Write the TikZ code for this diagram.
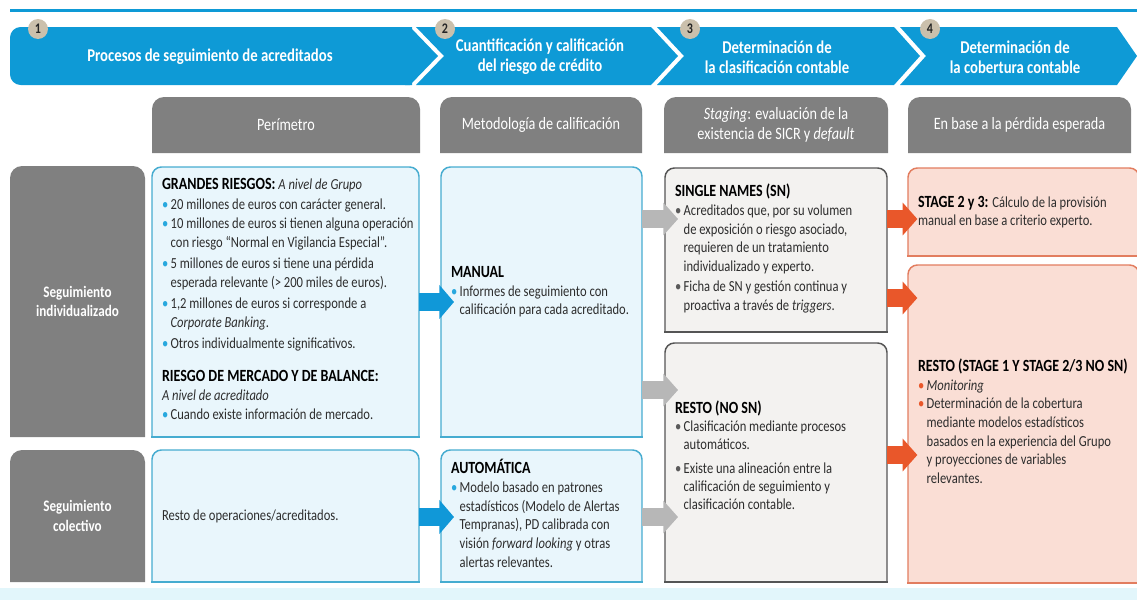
\documentclass[tikz,border=0pt]{standalone}
\usepackage{fontspec}
\setmainfont{Carlito}[FakeStretch=0.82]
\usetikzlibrary{arrows.meta}

\pgfdeclarelayer{bg}
\pgfsetlayers{bg,main}

\definecolor{bannerblue}{RGB}{14,154,214}
\definecolor{numbeige}{RGB}{203,192,172}
\definecolor{headgray}{RGB}{128,128,128}
\definecolor{boxblue}{RGB}{233,246,252}
\definecolor{boxblueline}{RGB}{70,172,208}
\definecolor{boxgrey}{RGB}{243,242,240}
\definecolor{boxgreyline}{RGB}{85,85,85}
\definecolor{boxpink}{RGB}{250,222,213}
\definecolor{boxpinkline}{RGB}{226,125,95}
\definecolor{arrblue}{RGB}{16,152,216}
\definecolor{arrgrey}{RGB}{183,183,183}
\definecolor{arrorange}{RGB}{233,87,42}
\definecolor{bulblue}{RGB}{40,168,222}
\definecolor{bulgrey}{RGB}{90,90,90}
\definecolor{txtgrey}{RGB}{45,45,45}
\definecolor{stripcyan}{RGB}{226,246,251}

\newcommand{\bitem}[2][bulblue]{\par\noindent\makebox[6.5pt][l]{\textcolor{#1}{\textbullet}}\begin{tabular}[t]{@{}l@{}}#2\end{tabular}}
\newcommand{\hd}[1]{{\fontsize{12.8}{15}\selectfont\bfseries\color{black}#1}}

\tikzset{every picture/.style={line width=0.75pt}}
\tikzset{
  boxtxt/.style={anchor=north west,inner xsep=7.5pt,inner ysep=0pt,outer sep=0pt,align=left,text=txtgrey,font=\fontsize{11.5}{14}\selectfont,
    execute at begin node={\leftskip=0pt\rightskip=0pt plus 1fil\parfillskip=0pt plus 1fil\spaceskip=0pt\xspaceskip=0pt\relax}},
  headtxt/.style={anchor=north west,inner sep=0pt,outer sep=0pt,minimum height=42pt,align=center,text=white,font=\fontsize{13}{15}\selectfont},
  rowtxt/.style={anchor=north west,inner sep=0pt,outer sep=0pt,minimum width=101.25pt,align=center,text=white,font=\fontsize{12}{14.5}\selectfont\bfseries},
  bantxt/.style={inner sep=0pt,align=center,text=white,font=\fontsize{13.5}{15}\selectfont\bfseries},
  numdot/.style={circle,fill=numbeige,inner sep=0pt,minimum size=15pt,text=black!85,font=\fontsize{11}{12}\selectfont\bfseries},
  grayshape/.style={fill=headgray,rounded corners=9pt},
  blueshape/.style={fill=boxblue,draw=boxblueline,line width=1.1pt,line cap=rect,rounded corners=7pt},
  greyshape/.style={fill=boxgrey,draw=boxgreyline,line width=1.1pt,line cap=rect,rounded corners=7pt},
  pinkshape/.style={fill=boxpink,draw=boxpinkline,line width=1.1pt,line cap=rect,rounded corners=7pt},
  bluearr/.style={draw=arrblue,line width=14pt,-{Triangle[width=25pt,length=11pt]},shorten >=-9.75pt},
  greyarr/.style={draw=arrgrey,line width=13pt,-{Triangle[width=24pt,length=11pt]},shorten >=-9.75pt},
  orangearr/.style={draw=arrorange,line width=13pt,-{Triangle[width=24pt,length=11pt]},shorten >=-7pt}
}

\begin{document}
\begin{tikzpicture}[x=0.75pt,y=0.75pt,yscale=-1,xscale=1]
\useasboundingbox (0,0) rectangle (1137,603);

%Top line
\draw [color=bannerblue, line width=2.25pt] (10,10) -- (1137,10) ;
%Bottom strip
\fill [stripcyan] (0,588) rectangle (1137,600) ;

%Banner segments
\fill [bannerblue, rounded corners=8pt] (412,27) -- (10,27) -- (10,85) -- (412,85) ;
\fill [bannerblue] (405,27) -- (410,27) -- (438,56) -- (410,85) -- (405,85) -- cycle ;
\fill [bannerblue] (416,27) -- (651,27) -- (678,56) -- (651,85) -- (416,85) -- (444,56) -- cycle ;
\fill [bannerblue] (657,27) -- (894,27) -- (920,56) -- (894,85) -- (657,85) -- (684,56) -- cycle ;
\fill [bannerblue] (900,27) -- (1117,27) -- (1137,56) -- (1117,85) -- (900,85) -- (926,56) -- cycle ;

% Banner texts
\node [bantxt] (b1) at (210,57) {Procesos de seguimiento de acreditados};
\node [bantxt] (b2) at (540,57) {Cuantificación y calificación\\del riesgo de crédito};
\node [bantxt] (b3) at (777,57) {Determinación de\\la clasificación contable};
\node [bantxt] (b4) at (1015,57) {Determinación de\\la cobertura contable};
% Step numbers
\node [numdot] (n1) at (38,29) {1};
\node [numdot] (n2) at (445,29) {2};
\node [numdot] (n3) at (690,29) {3};
\node [numdot] (n4) at (930,29) {4};

% Column headers
\node [headtxt, minimum width=201pt] (h1) at (152,97) {Perímetro};
\node [headtxt, minimum width=151.5pt] (h2) at (440,97) {Metodología de calificación};
\node [headtxt, minimum width=168pt] (h3) at (664,97) {\textit{Staging}: evaluación de la\\existencia de SICR y \textit{default}};
\node [headtxt, minimum width=167.25pt] (h4) at (908,97) {En base a la pérdida esperada};

% Row labels
\node [rowtxt, minimum height=203.25pt] (r1) at (10,166) {Seguimiento\\individualizado};
\node [rowtxt, minimum height=99pt] (r2) at (10,450) {Seguimiento\\colectivo};

% Perimetro
\node [boxtxt, minimum width=200.25pt, minimum height=202.5pt, text width=185.25pt, font=\fontsize{11.5}{14.5}\selectfont] (peri) at (152,167) {\noindent\hd{GRANDES RIESGOS:} \textit{A nivel de Grupo}
\bitem{20 millones de euros con carácter general.}
\bitem{10 millones de euros si tienen alguna operación\\con riesgo “Normal en Vigilancia Especial”.}
\bitem{5 millones de euros si tiene una pérdida\\esperada relevante (> 200 miles de euros).}
\bitem{1,2 millones de euros si corresponde a\\\textit{Corporate Banking}.}
\bitem{Otros individualmente significativos.}
\par\vspace{10pt}
\noindent\hd{RIESGO DE MERCADO Y DE BALANCE:}\par
\noindent\textit{A nivel de acreditado}
\bitem{Cuando existe información de mercado.}};
\node [boxtxt, minimum width=200.25pt, minimum height=99pt, text width=185.25pt] (resto) at (152,450) {Resto de operaciones/acreditados.};

% Metodologia
\node [boxtxt, minimum width=150.75pt, minimum height=202.5pt, text width=135.75pt] (manual) at (441,167) {\noindent\hd{MANUAL}
\bitem{Informes de seguimiento con\\calificación para cada acreditado.}\par\rule{0pt}{12pt}};
\node [boxtxt, minimum width=150.75pt, minimum height=99pt, text width=135.75pt] (auto) at (441,450) {\noindent\hd{AUTOMÁTICA}
\bitem{Modelo basado en patrones\\estadísticos (Modelo de Alertas\\Tempranas), PD calibrada con\\visión \textit{forward looking} y otras\\alertas relevantes.}};

% Staging
\node [boxtxt, minimum width=166.5pt, minimum height=123pt, text width=151.5pt] (sn) at (665,168) {\noindent\hd{SINGLE NAMES (SN)}
\bitem[bulgrey]{Acreditados que, por su volumen\\de exposición o riesgo asociado,\\requieren de un tratamiento\\individualizado y experto.}
\bitem[bulgrey]{Ficha de SN y gestión continua y\\proactiva a través de \textit{triggers}.}};
\node [boxtxt, minimum width=166.5pt, minimum height=179.25pt, text width=151.5pt, font=\fontsize{11.5}{13.5}\selectfont] (nosn) at (665,343) {\noindent\hd{RESTO (NO SN)}
\bitem[bulgrey]{Clasificación mediante procesos\\automáticos.}
\par\vspace{3pt}
\bitem[bulgrey]{Existe una alineación entre la\\calificación de seguimiento y\\clasificación contable.}\par\rule{0pt}{6pt}};

% Cobertura
\node [boxtxt, minimum width=173.25pt, minimum height=66pt, text width=158.25pt] (st23) at (908,168) {\noindent\hd{STAGE 2 y 3:} Cálculo de la provisión\newline manual en base a criterio experto.};
\node [boxtxt, minimum width=173.25pt, minimum height=238.5pt, text width=158.25pt] (restost) at (908,265) {\noindent\hd{RESTO (STAGE 1 Y STAGE 2/3 NO SN)}
\bitem[arrorange]{\textit{Monitoring}}
\bitem[arrorange]{Determinación de la cobertura\\mediante modelos estadísticos\\basados en la experiencia del Grupo\\y proyecciones de variables\\relevantes.}};

% Box shapes behind the texts
\begin{pgfonlayer}{bg}
\fill [grayshape] (h1.south west) -- (h1.north west) -- (h1.north east) -- (h1.south east) ;
\fill [grayshape] (h2.south west) -- (h2.north west) -- (h2.north east) -- (h2.south east) ;
\fill [grayshape] (h3.south west) -- (h3.north west) -- (h3.north east) -- (h3.south east) ;
\fill [grayshape] (h4.south west) -- (h4.north west) -- (h4.north east) -- (h4.south east) ;
\fill [grayshape] (r1.south west) -- (r1.north west) -- (r1.north east) -- (r1.south east) ;
\fill [grayshape] (r2.south west) -- (r2.north west) -- (r2.north east) -- (r2.south east) ;

\filldraw [blueshape] (peri.south west) -- (peri.north west) -- (peri.north east) -- (peri.south east) ;
\draw [blueshape] (peri.south west) -- (peri.south east) ;
\filldraw [blueshape] (resto.south west) -- (resto.north west) -- (resto.north east) -- (resto.south east) ;
\draw [blueshape] (resto.south west) -- (resto.south east) ;
\filldraw [blueshape] (manual.south west) -- (manual.north west) -- (manual.north east) -- (manual.south east) ;
\draw [blueshape] (manual.south west) -- (manual.south east) ;
\filldraw [blueshape] (auto.south west) -- (auto.north west) -- (auto.north east) -- (auto.south east) ;
\draw [blueshape] (auto.south west) -- (auto.south east) ;

\filldraw [greyshape] (sn.south west) -- (sn.north west) -- (sn.north east) -- (sn.south east) ;
\draw [greyshape] (sn.south west) -- (sn.south east) ;
\filldraw [greyshape] (nosn.south west) -- (nosn.north west) -- (nosn.north east) -- (nosn.south east) ;
\draw [greyshape] (nosn.south west) -- (nosn.south east) ;

\filldraw [pinkshape] (st23.south west) -- (st23.north west) -- (st23.north east) -- (st23.south east) ;
\draw [pinkshape] (st23.south west) -- (st23.south east) ;
\filldraw [pinkshape] (restost.south west) -- (restost.north west) -- (restost.north east) -- (restost.south east) ;
\draw [pinkshape] (restost.south west) -- (restost.south east) ;
\end{pgfonlayer}

%Arrows
\draw [bluearr] (peri.east |- 0,302) -- (manual.west |- 0,302) ;
\draw [bluearr] (resto.east |- 0,517) -- (auto.west |- 0,517) ;
\draw [greyarr] (manual.east |- 0,219) -- (sn.west |- 0,219) ;
\draw [greyarr] (manual.east |- 0,390) -- (nosn.west |- 0,390) ;
\draw [greyarr] (auto.east |- 0,517) -- (nosn.west |- 0,517) ;
\draw [orangearr] (sn.east |- 0,219) -- (st23.west |- 0,219) ;
\draw [orangearr] (sn.east |- 0,298) -- (restost.west |- 0,298) ;
\draw [orangearr] (nosn.east |- 0,455) -- (restost.west |- 0,455) ;

\end{tikzpicture}
\end{document}
